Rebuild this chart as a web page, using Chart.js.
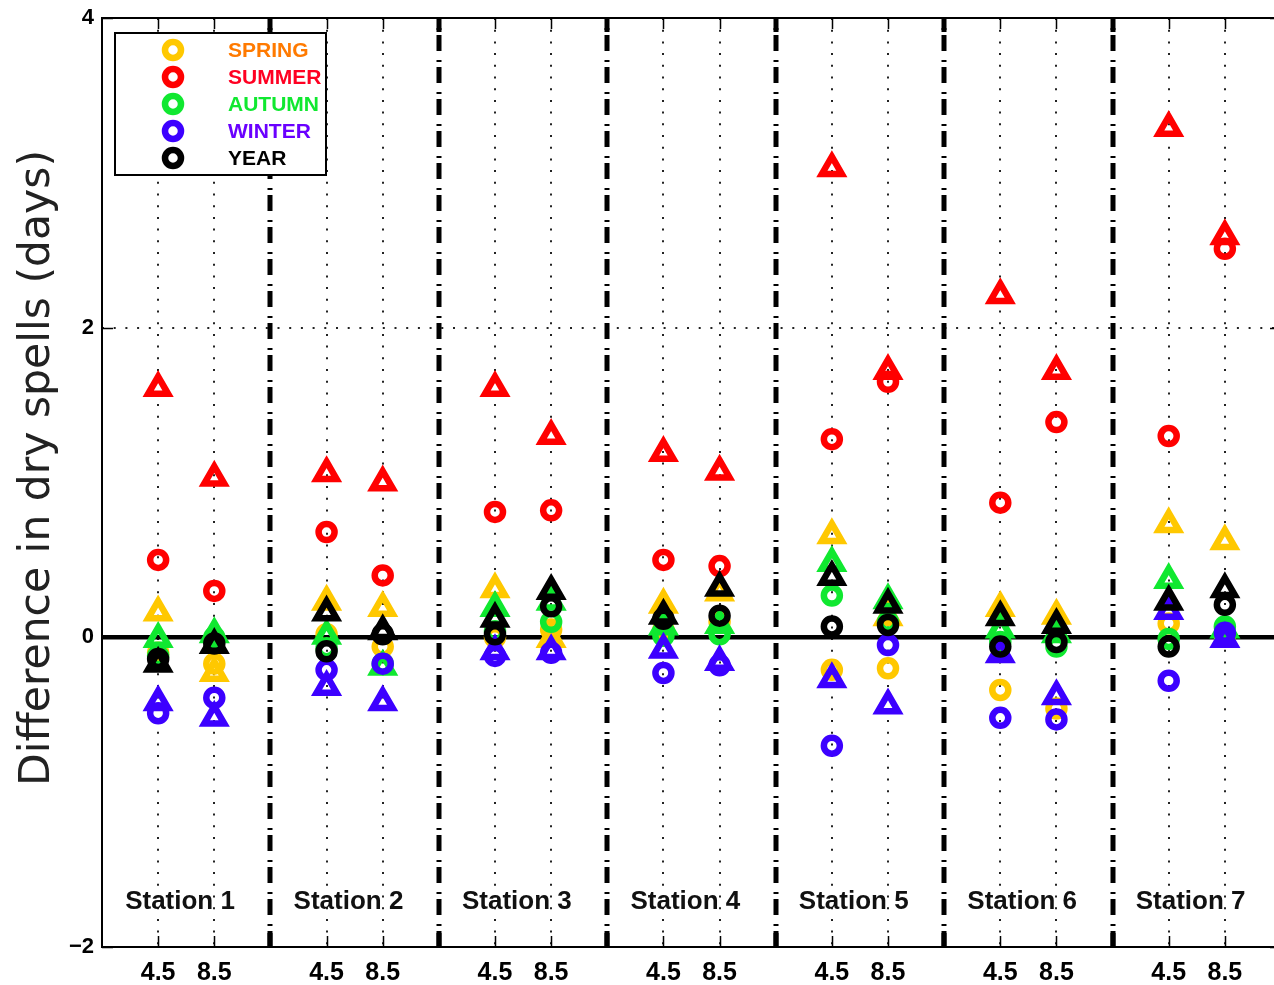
<!DOCTYPE html>
<html>
<head>
<meta charset="utf-8">
<title>Difference in dry spells</title>
<script src="https://cdn.jsdelivr.net/npm/chart.js@4.4.1/dist/chart.umd.min.js"></script>
<style>
  html, body { margin: 0; padding: 0; background: #fff; overflow: hidden; }
  canvas { display: block; }
</style>
</head>
<body>
<canvas id="chart" width="1299" height="985"></canvas>
<script>
// ---- data -------------------------------------------------------------
const stations = ['Station 1', 'Station 2', 'Station 3', 'Station 4', 'Station 5', 'Station 6', 'Station 7'];
const scenarios = ['4.5', '8.5'];
const yTicks = [-2, 0, 2, 4];
const yTitle = 'Difference in dry spells (days)';

const seasons = ['SPRING', 'SUMMER', 'AUTUMN', 'WINTER', 'YEAR'];
const markerColors = ['#FFC800', '#FF0000', '#10E830', '#3C00FF', '#000000'];
const textColors = ['#FF7A00', '#FF0022', '#10E830', '#6A00FF', '#000000'];

// values per station, ordered 4.5 then 8.5 for each station
const springCircle   = [-0.10, -0.17,  0.02, -0.06,  0.00,  0.05,  0.05,  0.10, -0.21, -0.20, -0.34, -0.46,  0.09,  0.01];
const springTriangle = [ 0.16, -0.23,  0.23,  0.19,  0.31, -0.01,  0.21,  0.29,  0.66,  0.13,  0.19,  0.14,  0.73,  0.62];
const summerCircle   = [ 0.50,  0.30,  0.68,  0.40,  0.81,  0.82,  0.50,  0.46,  1.28,  1.65,  0.87,  1.39,  1.30,  2.51];
const summerTriangle = [ 1.61,  1.03,  1.06,  1.00,  1.61,  1.30,  1.19,  1.07,  3.03,  1.72,  2.21,  1.72,  3.29,  2.59];
const autumnCircle   = [-0.12,  0.00, -0.07, -0.17,  0.04,  0.10,  0.01,  0.02,  0.27,  0.10, -0.03, -0.06, -0.01,  0.07];
const autumnTriangle = [-0.01,  0.02,  0.01, -0.19,  0.19,  0.23,  0.07,  0.08,  0.48,  0.24,  0.05,  0.02,  0.37,  0.05];
const winterCircle   = [-0.49, -0.39, -0.21, -0.17, -0.12, -0.10, -0.23, -0.18, -0.70, -0.05, -0.52, -0.53, -0.28,  0.03];
const winterTriangle = [-0.42, -0.52, -0.32, -0.42, -0.09, -0.09, -0.08, -0.16, -0.27, -0.44, -0.11, -0.38,  0.17, -0.01];
const yearCircle     = [-0.14, -0.04, -0.09,  0.02,  0.02,  0.20,  0.12,  0.14,  0.07,  0.08, -0.06, -0.03, -0.06,  0.21];
const yearTriangle   = [-0.17, -0.05,  0.16,  0.04,  0.12,  0.30,  0.14,  0.32,  0.39,  0.21,  0.13,  0.08,  0.23,  0.31];

const circleSeries = [springCircle, summerCircle, autumnCircle, winterCircle, yearCircle];
const triangleSeries = [springTriangle, summerTriangle, autumnTriangle, winterTriangle, yearTriangle];

// ---- x layout: each station occupies 3 units, scenarios at +1 and +2 ----
const slot = 3;
const xPositions = [];
stations.forEach((s, si) => scenarios.forEach((c, ci) => xPositions.push(si * slot + 1 + ci)));
const separators = stations.slice(1).map((s, si) => (si + 1) * slot);

const toPoints = vals => vals.map((v, i) => ({ x: xPositions[i], y: v }));

const datasets = [];
let drawOrder = 100;
seasons.forEach((name, k) => {
  datasets.push({
    label: name, data: toPoints(circleSeries[k]), pointStyle: 'circle',
    pointRadius: 8, pointBorderWidth: 6.5, borderColor: markerColors[k],
    backgroundColor: 'rgba(0,0,0,0)', order: drawOrder--
  });
  datasets.push({
    label: name + ' (triangle)', data: toPoints(triangleSeries[k]), pointStyle: 'triangle',
    pointRadius: 11.5, pointBorderWidth: 6.5, borderColor: markerColors[k],
    backgroundColor: 'rgba(0,0,0,0)', order: drawOrder--
  });
});

const FONT = '"Liberation Sans", Arial, Helvetica, sans-serif';

// separators, zero line, station names, frame, inward ticks, legend, y title
const decor = {
  id: 'decor',
  beforeDatasetsDraw(chart) {
    const { ctx, chartArea: a, scales: { x, y } } = chart;
    ctx.save();
    ctx.strokeStyle = '#000';
    ctx.lineWidth = 5;
    ctx.setLineDash([16, 5, 2, 9]);
    separators.forEach(v => {
      const px = Math.round(x.getPixelForValue(v));
      ctx.beginPath();
      ctx.moveTo(px, a.bottom);
      ctx.lineTo(px, a.top);
      ctx.stroke();
    });
    ctx.setLineDash([]);
    ctx.lineWidth = 4.5;
    const y0 = y.getPixelForValue(0);
    ctx.beginPath();
    ctx.moveTo(a.left, y0);
    ctx.lineTo(a.right, y0);
    ctx.stroke();

    ctx.fillStyle = '#111';
    ctx.font = 'bold 26px ' + FONT;
    ctx.textAlign = 'center';
    ctx.textBaseline = 'middle';
    stations.forEach((s, si) => {
      ctx.fillText(s, x.getPixelForValue(si * slot + 1.39), y.getPixelForValue(-1.71));
    });
    ctx.restore();
  },
  afterDatasetsDraw(chart) {
    const { ctx, chartArea: a, scales: { x, y } } = chart;
    ctx.save();
    // frame
    ctx.strokeStyle = '#000';
    ctx.lineWidth = 2;
    ctx.strokeRect(a.left, a.top, a.right - a.left, a.bottom - a.top);
    // inward ticks
    ctx.lineWidth = 1.5;
    const tl = 11;
    ctx.beginPath();
    xPositions.forEach(v => {
      const px = Math.round(x.getPixelForValue(v)) + 0.5;
      ctx.moveTo(px, a.bottom); ctx.lineTo(px, a.bottom - tl);
      ctx.moveTo(px, a.top); ctx.lineTo(px, a.top + tl);
    });
    yTicks.forEach(v => {
      const py = Math.round(y.getPixelForValue(v)) + 0.5;
      ctx.moveTo(a.left, py); ctx.lineTo(a.left + tl, py);
      ctx.moveTo(a.right, py); ctx.lineTo(a.right - tl, py);
    });
    ctx.stroke();
    ctx.lineWidth = 5;
    ctx.beginPath();
    separators.forEach(v => {
      const px = Math.round(x.getPixelForValue(v));
      ctx.moveTo(px, a.bottom); ctx.lineTo(px, a.bottom - 14);
      ctx.moveTo(px, a.top); ctx.lineTo(px, a.top + 14);
    });
    ctx.stroke();

    // legend
    const bx = a.left + 13, by = a.top + 15, bw = 211, bh = 142;
    ctx.fillStyle = '#fff';
    ctx.fillRect(bx, by, bw, bh);
    ctx.lineWidth = 2;
    ctx.strokeRect(bx, by, bw, bh);
    ctx.font = 'bold 21px ' + FONT;
    ctx.textAlign = 'left';
    ctx.textBaseline = 'middle';
    seasons.forEach((name, k) => {
      const ry = by + 17 + 27 * k;
      ctx.beginPath();
      ctx.arc(bx + 58, ry, 8, 0, Math.PI * 2);
      ctx.lineWidth = 6.5;
      ctx.strokeStyle = markerColors[k];
      ctx.stroke();
      ctx.fillStyle = textColors[k];
      ctx.fillText(name, bx + 113, ry + 1);
    });

    // y axis title
    ctx.translate(38, 468);
    ctx.rotate(-Math.PI / 2);
    ctx.fillStyle = '#222';
    ctx.font = '42.5px "DejaVu Sans", sans-serif';
    ctx.textAlign = 'center';
    ctx.textBaseline = 'middle';
    ctx.fillText(yTitle, 0, 0);
    ctx.restore();
  }
};

new Chart(document.getElementById('chart'), {
  type: 'scatter',
  data: { datasets },
  options: {
    responsive: false,
    animation: false,
    events: [],
    layout: { padding: { top: 18, right: 0, left: 0, bottom: 0 } },
    plugins: { legend: { display: false }, tooltip: { enabled: false } },
    scales: {
      x: {
        type: 'linear', min: 0, max: stations.length * slot,
        afterBuildTicks: s => { s.ticks = xPositions.map(v => ({ value: v })); },
        afterFit: s => { s.height = 38; s.paddingLeft = 0; s.paddingRight = 0; },
        ticks: {
          autoSkip: false, maxRotation: 0, padding: 11, color: '#000',
          font: { family: FONT, size: 25, weight: 'bold' },
          callback: (v, i) => scenarios[i % scenarios.length]
        },
        grid: { drawTicks: false, color: '#222', lineWidth: 2 },
        border: { display: false, dash: [2, 9.7] }
      },
      y: {
        min: yTicks[0], max: yTicks[yTicks.length - 1],
        afterBuildTicks: s => { s.ticks = yTicks.map(v => ({ value: v })); },
        afterFit: s => { s.width = 102; s.paddingTop = 0; s.paddingBottom = 0; },
        ticks: {
          padding: 8, color: '#000',
          font: { family: FONT, size: 22, weight: 'bold' },
          callback: v => (v < 0 ? '\u2212' + Math.abs(v) : String(v))
        },
        grid: { drawTicks: false, color: '#222', lineWidth: 2 },
        border: { display: false, dash: [2, 9.7] }
      }
    }
  },
  plugins: [decor]
});
</script>
</body>
</html>
